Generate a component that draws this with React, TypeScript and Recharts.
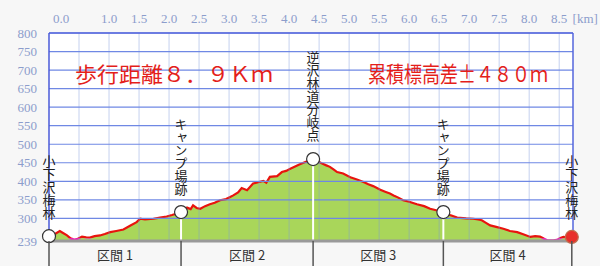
import React from 'react';
import {
  ComposedChart, Area, Scatter, XAxis, YAxis, CartesianGrid, ReferenceLine,
} from 'recharts';

// elevation profile (km / m)
const DIST = [
  0.0, 0.1, 0.18, 0.22, 0.3, 0.36, 0.42, 0.48, 0.55, 0.62, 0.68, 0.76, 0.85, 0.93,
  1.02, 1.12, 1.24, 1.35, 1.46, 1.52, 1.6, 1.74, 1.85, 1.96, 2.05, 2.13, 2.2,
  2.26, 2.3, 2.36, 2.4, 2.46, 2.52, 2.6, 2.68, 2.76, 2.85, 2.95, 3.07, 3.15, 3.21, 3.3, 3.4,
  3.5, 3.57, 3.62, 3.68, 3.8, 3.88, 3.95, 4.02, 4.1, 4.18, 4.3, 4.36, 4.4,
  4.5, 4.55, 4.62, 4.68, 4.74, 4.8, 4.9, 5.02, 5.13, 5.24, 5.32, 5.4, 5.52, 5.6,
  5.68, 5.74, 5.82, 5.9, 6.0, 6.13, 6.25, 6.35, 6.45, 6.57,
  6.68, 6.8, 6.95, 7.07, 7.15, 7.21, 7.28, 7.35, 7.45, 7.57, 7.68, 7.8, 7.9,
  8.02, 8.1, 8.18, 8.25, 8.3, 8.4, 8.46, 8.52, 8.57, 8.65, 8.71,
];
const ELEV = [
  252, 258, 266, 262, 254, 246, 243, 245, 251, 249, 248, 252, 254, 258,
  263, 266, 270, 280, 290, 299, 297, 299, 302, 305, 309, 313, 317,
  322, 329, 325, 335, 328, 326, 333, 338, 342, 349, 352, 362, 370, 382, 376, 394,
  398, 401, 396, 412, 414, 425, 428, 434, 440, 446, 454, 456, 460,
  452, 448, 443, 439, 432, 425, 421, 411, 405, 398, 392, 387, 377, 372,
  367, 362, 356, 349, 345, 338, 333, 326, 322, 317,
  309, 302, 300, 299, 297, 295, 288, 281, 277, 272, 266, 263, 257,
  250, 252, 251, 245, 241, 241, 242, 247, 250, 249, 250,
];

const WAYPOINT_KM = [0, 2.2, 4.4, 6.57, 8.71];
const WAYPOINT_ELEV = [252, 317, 460, 317, 250];
const WAYPOINT_NAMES = ['小下沢梅林', 'キャンプ場跡', '逆沢林道分岐点', 'キャンプ場跡', '小下沢梅林'];
const SECTION_NAMES = ['区間 1', '区間 2', '区間 3', '区間 4'];

const X_TICKS = [0, 0.5, 1, 1.5, 2, 2.5, 3, 3.5, 4, 4.5, 5, 5.5, 6, 6.5, 7, 7.5, 8, 8.5];
const Y_TICKS = [239, 300, 350, 400, 450, 500, 550, 600, 650, 700, 750, 800];
const X_MAX = 8.73;
const Y_MIN = 239;
const Y_MAX = 800;
const LOW_LIMIT = 246; // line turns pink below this

const data = DIST.map((km, i) => ({ km, elev: ELEV[i] }));
const waypoints = WAYPOINT_KM.map((km, i) => ({
  km, elev: WAYPOINT_ELEV[i], name: WAYPOINT_NAMES[i], end: i === WAYPOINT_KM.length - 1,
}));

// section axis: boundaries draw a line, midpoints carry the name
const sectionTicks: number[] = [];
const sectionLabel: Record<string, string> = {};
WAYPOINT_KM.forEach((km, i) => {
  sectionTicks.push(km);
  if (i < SECTION_NAMES.length) {
    const mid = +((km + WAYPOINT_KM[i + 1]) / 2).toFixed(3);
    sectionTicks.push(mid);
    sectionLabel[String(mid)] = SECTION_NAMES[i];
  }
});

const maxE = Math.max(...ELEV);
const minE = Math.min(...ELEV);
const lowOffset = (maxE - LOW_LIMIT) / (maxE - minE);

const TICK_COLOR = '#8c9dcc';
const TICK_FONT = '"Liberation Serif", "DejaVu Serif", serif';
const JP_FONT = '"Noto Sans CJK JP", sans-serif';

const TopTick = (props: any) => {
  const { x, y, payload } = props;
  const v = payload.value;
  if (v === 0.5) return null;
  const dx = v === 0 ? 12 : 0;
  return (
    <g>
      <text x={x + dx} y={y} textAnchor="middle" fill={TICK_COLOR} fontSize={13} fontFamily={TICK_FONT}>
        {v.toFixed(1)}
      </text>
      {v === 8.5 && (
        <text x={x + 26} y={y} textAnchor="middle" fill={TICK_COLOR} fontSize={13} fontFamily={TICK_FONT}>
          [km]
        </text>
      )}
    </g>
  );
};

const SectionTick = (props: any) => {
  const { x, y, payload } = props;
  const name = sectionLabel[String(payload.value)];
  if (name) {
    return (
      <text x={x} y={y + 19} textAnchor="middle" fill="#333" fontSize={13} fontFamily={JP_FONT}>
        {name}
      </text>
    );
  }
  return <line x1={x} y1={y} x2={x} y2={y + 30} stroke="#555" strokeWidth={1.5} />;
};

const Waypoint = (props: any) => {
  const { cx, cy, payload } = props;
  return (
    <g>
      <text
        x={cx}
        y={cy - 17}
        textAnchor="end"
        fontSize={13}
        fill="#222"
        fontFamily={JP_FONT}
        style={{ writingMode: 'vertical-rl' }}
      >
        {payload.name}
      </text>
      <circle
        cx={cx}
        cy={cy}
        r={6.5}
        fill={payload.end ? '#e8302a' : '#fff'}
        stroke={payload.end ? '#c07050' : '#333'}
        strokeWidth={1.2}
      />
    </g>
  );
};

export default function App() {
  return (
    <div style={{ position: 'relative', width: 600, height: 266, background: '#f7f7f7', overflow: 'hidden' }}>
      <style>{'body{margin:0}'}</style>
      <ComposedChart
        width={600}
        height={266}
        data={data}
        margin={{ top: 0, right: 27, bottom: 0, left: 0 }}
      >
        <defs>
          <linearGradient id="lineGrad" x1="0" y1="0" x2="0" y2="1">
            <stop offset={0} stopColor="#e8140e" />
            <stop offset={lowOffset} stopColor="#e8140e" />
            <stop offset={lowOffset} stopColor="#f020b0" />
            <stop offset={1} stopColor="#f020b0" />
          </linearGradient>
        </defs>
        <CartesianGrid fill="#ffffff" horizontal={false} vertical={false} />
        <XAxis
          dataKey="km"
          type="number"
          orientation="top"
          domain={[0, X_MAX]}
          ticks={X_TICKS}
          interval={0}
          height={33}
          tickLine={false}
          tickSize={8}
          tickMargin={2}
          axisLine={{ stroke: '#5566dd', strokeWidth: 1.5 }}
          tick={<TopTick />}
        />
        <XAxis
          xAxisId="sec"
          dataKey="km"
          type="number"
          orientation="bottom"
          domain={[0, X_MAX]}
          ticks={sectionTicks}
          interval={0}
          height={25}
          tickLine={false}
          tickSize={0}
          tickMargin={0}
          axisLine={{ stroke: '#9a9a9a', strokeWidth: 3 }}
          tick={<SectionTick />}
        />
        <YAxis
          type="number"
          domain={[Y_MIN, Y_MAX]}
          ticks={Y_TICKS}
          interval={0}
          width={49}
          tickLine={false}
          tickSize={10}
          tickMargin={2}
          axisLine={{ stroke: '#4a5ad8', strokeWidth: 1.5 }}
          tick={{ fill: TICK_COLOR, fontSize: 13, fontFamily: TICK_FONT }}
        />
        <Area
          type="linear"
          dataKey="elev"
          stroke="url(#lineGrad)"
          strokeWidth={2.2}
          fill="#a9d65a"
          fillOpacity={1}
          baseValue={Y_MIN}
          isAnimationActive={false}
        />
        {/* grid drawn over the fill, as in the original */}
        {X_TICKS.filter((v) => v > 0).map((v) => (
          <ReferenceLine key={`gx${v}`} x={v} stroke="#7f98dc" strokeOpacity={0.45} />
        ))}
        {Y_TICKS.filter((v) => v > Y_MIN).map((v) => (
          <ReferenceLine key={`gy${v}`} y={v} stroke="#6f88e4" strokeWidth={1.2} />
        ))}
        <ReferenceLine y={Y_MIN} stroke="#9fc0ea" strokeWidth={1.5} />
        <ReferenceLine x={X_MAX} stroke="#5566dd" strokeWidth={1.5} />
        {waypoints.slice(1, -1).map((w) => (
          <ReferenceLine
            key={w.km}
            segment={[{ x: w.km, y: Y_MIN }, { x: w.km, y: w.elev }]}
            stroke="#ffffff"
            strokeWidth={2}
          />
        ))}
        <Scatter data={waypoints} dataKey="elev" shape={<Waypoint />} isAnimationActive={false} />
      </ComposedChart>
      <svg width={600} height={266} style={{ position: 'absolute', left: 0, top: 0, pointerEvents: 'none' }}>
        <text x={75} y={82} fontSize={21} fill="#e41e1a" fontFamily={JP_FONT} textLength={198} lengthAdjust="spacingAndGlyphs">
          歩行距離８．９Ｋｍ
        </text>
        <text x={368} y={82} fontSize={22} fill="#e41e1a" fontFamily={JP_FONT} textLength={180} lengthAdjust="spacingAndGlyphs">
          累積標高差±４８０ｍ
        </text>
      </svg>
    </div>
  );
}
